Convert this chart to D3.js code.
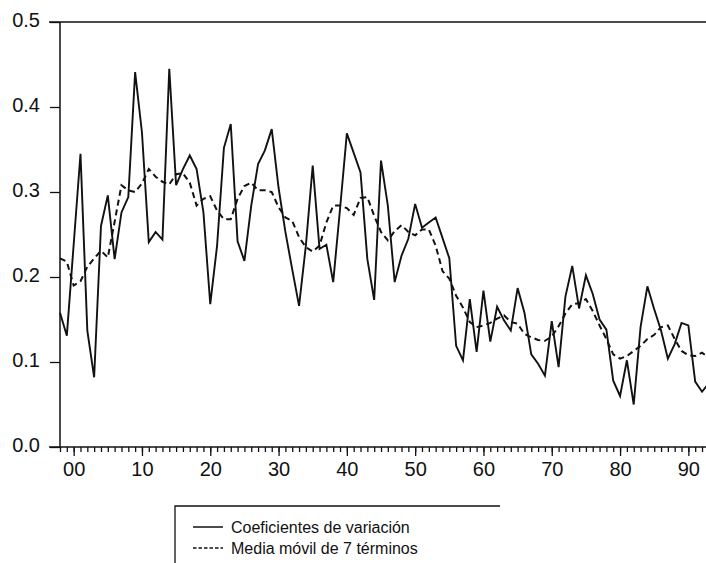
<!DOCTYPE html>
<html>
<head>
<meta charset="utf-8">
<script src="https://cdn.jsdelivr.net/npm/d3@7"></script>
<style>
  body{margin:0;background:#fff}
  text{font-family:"Liberation Sans",Arial,Helvetica,sans-serif;fill:#111}
</style>
</head>
<body>
<div id="chart"></div>
<script>
const years = d3.range(1898, 1994)

const coefVar = [
  0.158,0.131,0.238,0.345,0.137,0.082,0.260,0.296,0.221,0.276,
  0.294,0.441,0.370,0.241,0.253,0.244,0.445,0.308,0.327,0.343,
  0.327,0.276,0.168,0.237,0.352,0.380,0.242,0.219,0.284,0.333,
  0.349,0.374,0.305,0.253,0.209,0.166,0.237,0.331,0.233,0.238,
  0.194,0.280,0.369,0.346,0.323,0.221,0.173,0.337,0.284,0.194,
  0.225,0.245,0.286,0.258,0.264,0.270,0.246,0.222,0.119,0.102,
  0.174,0.112,0.184,0.124,0.165,0.149,0.137,0.187,0.158,0.109,
  0.098,0.084,0.148,0.094,0.177,0.213,0.163,0.202,0.180,0.150,
  0.138,0.078,0.060,0.102,0.050,0.141,0.189,0.162,0.137,0.104,
  0.121,0.146,0.143,0.077,0.065,0.075
]

const movAvg = [
  0.222,0.218,0.190,0.195,0.212,0.222,0.231,0.223,0.265,0.308,
  0.302,0.300,0.310,0.327,0.318,0.312,0.309,0.321,0.322,0.311,
  0.284,0.292,0.295,0.278,0.268,0.268,0.292,0.307,0.311,0.302,
  0.302,0.300,0.282,0.270,0.266,0.247,0.235,0.230,0.237,0.264,
  0.284,0.284,0.281,0.273,0.293,0.294,0.272,0.253,0.243,0.254,
  0.261,0.253,0.249,0.256,0.256,0.237,0.207,0.198,0.178,0.164,
  0.147,0.141,0.143,0.146,0.151,0.155,0.147,0.145,0.133,0.129,
  0.126,0.125,0.130,0.142,0.157,0.168,0.169,0.174,0.160,0.143,
  0.127,0.109,0.104,0.107,0.113,0.119,0.127,0.132,0.141,0.143,
  0.127,0.113,0.108,0.107,0.111,0.105
]

const yTicks = [0, 0.1, 0.2, 0.3, 0.4, 0.5]
const decadeTicks = d3.range(1900, 2000, 10)
const legendLabels = ["Coeficientes de variación", "Media móvil de 7 términos"]

drawChart("#chart")

function drawChart(id){
  const canvas = createCanvas()
  const svg = addSvg(id, canvas)
  const sc = addScales(canvas)
  addAxes(svg, sc, canvas)
  addLines(svg, sc)
  addLegend(svg)
}

function createCanvas(){
  return {width: 706, height: 563, left: 60, top: 22, bottom: 447, pxYear: 6.83}
}

function addSvg(id, canvas){
  return d3.select(id).append("svg")
    .attr("width", canvas.width).attr("height", canvas.height)
}

function addScales(canvas){
  const xScale = d3.scaleLinear().domain([1898, 1993])
    .range([canvas.left, canvas.left + 95 * canvas.pxYear])
  const yScale = d3.scaleLinear().domain([0, 0.5])
    .range([canvas.bottom, canvas.top])
  return {xScale, yScale}
}

function addAxes(svg, sc, canvas){
  // yearly minor ticks
  svg.append("g").attr("transform", `translate(0,${canvas.bottom})`)
    .call(d3.axisBottom(sc.xScale).tickValues(years).tickSize(5).tickFormat(""))
    .call(g => g.select(".domain").remove())
    .selectAll("line").attr("stroke", "#111").attr("stroke-width", 1.3)

  const xAxis = svg.append("g").attr("transform", `translate(0,${canvas.bottom})`)
    .call(d3.axisBottom(sc.xScale).tickValues(decadeTicks).tickSize(9).tickPadding(6)
      .tickFormat(d => String(d % 100).padStart(2, "0")))
  xAxis.select(".domain").remove()
  xAxis.selectAll("line").attr("stroke", "#111").attr("stroke-width", 1.3)
  xAxis.selectAll("text").attr("font-size", "20px")

  svg.append("line").attr("x1", 49).attr("x2", canvas.width)
    .attr("y1", canvas.bottom).attr("y2", canvas.bottom)
    .attr("stroke", "#111").attr("stroke-width", 1.5)

  const yAxis = svg.append("g").attr("transform", `translate(${canvas.left},0)`)
    .call(d3.axisLeft(sc.yScale).tickValues(yTicks).tickSize(10).tickPadding(10)
      .tickFormat(d3.format(".1f")))
  yAxis.select(".domain").attr("stroke", "#111").attr("stroke-width", 1.5)
    .attr("d", `M0,${canvas.bottom}V${canvas.top}`)
  yAxis.selectAll("line").attr("stroke", "#111").attr("stroke-width", 1.3)
  yAxis.selectAll("text").attr("font-size", "20px").attr("dy", "0.22em")

  svg.append("line").attr("x1", 49).attr("x2", canvas.width)
    .attr("y1", sc.yScale(0.5)).attr("y2", sc.yScale(0.5))
    .attr("stroke", "#111").attr("stroke-width", 1.5)
}

function addLines(svg, sc){
  const line = vals => d3.line()
    .x((d, i) => sc.xScale(years[i])).y(d => sc.yScale(d))(vals)

  svg.append("path").attr("d", line(movAvg)).attr("fill", "none")
    .attr("stroke", "#111").attr("stroke-width", 2).attr("stroke-dasharray", "6 4")

  svg.append("path").attr("d", line(coefVar)).attr("fill", "none")
    .attr("stroke", "#111").attr("stroke-width", 1.9).attr("stroke-linejoin", "miter")
}

function addLegend(svg){
  const g = svg.append("g")
  g.append("path").attr("d", "M175,570V506H500").attr("fill", "none")
    .attr("stroke", "#111").attr("stroke-width", 1.3)

  legendLabels.forEach((lab, i) => {
    const y = 527 + i * 21
    g.append("line").attr("x1", 193).attr("x2", 223).attr("y1", y).attr("y2", y)
      .attr("stroke", "#111").attr("stroke-width", 1.5)
      .attr("stroke-dasharray", i === 1 ? "3.5 2" : null)
    g.append("text").attr("x", 231).attr("y", y).attr("dy", "0.35em")
      .attr("font-size", "16px").text(lab)
  })
}
</script>
</body>
</html>
